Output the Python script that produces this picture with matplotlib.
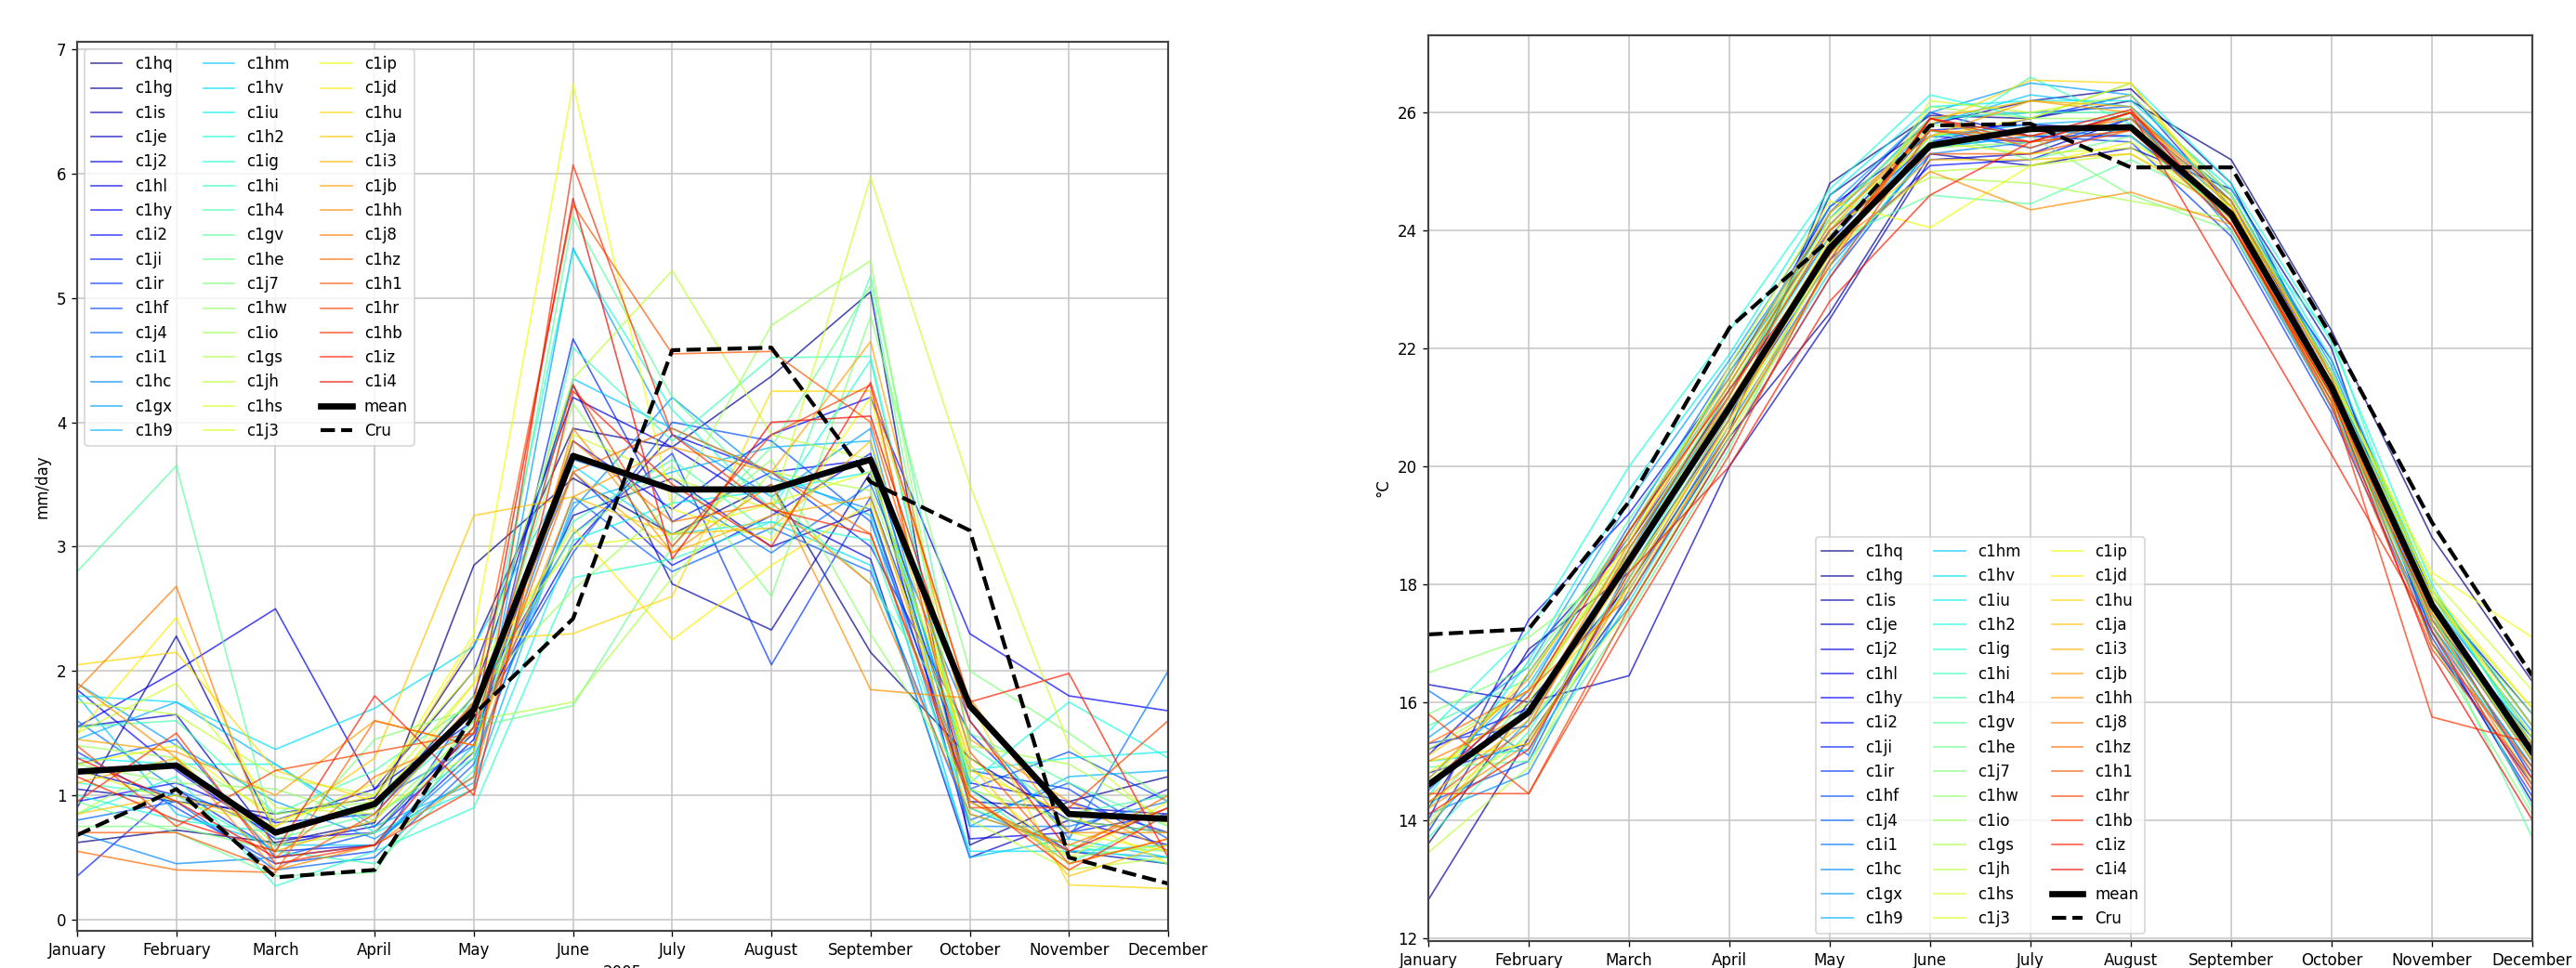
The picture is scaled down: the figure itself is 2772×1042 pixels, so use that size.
import matplotlib
matplotlib.use("Agg")
import matplotlib.pyplot as plt
import numpy as np

months = ["January", "February", "March", "April", "May", "June", "July",
          "August", "September", "October", "November", "December"]

members = ["c1hq", "c1hg", "c1is", "c1je", "c1j2", "c1hl", "c1hy", "c1i2", "c1ji", "c1ir",
           "c1hf", "c1j4", "c1i1", "c1hc", "c1gx", "c1h9", "c1hm", "c1hv", "c1iu", "c1h2",
           "c1ig", "c1hi", "c1h4", "c1gv", "c1he", "c1j7", "c1hw", "c1io", "c1gs", "c1jh",
           "c1hs", "c1j3", "c1ip", "c1jd", "c1hu", "c1ja", "c1i3", "c1jb", "c1hh", "c1j8",
           "c1hz", "c1h1", "c1hr", "c1hb", "c1iz", "c1i4"]

# precipitation (mm/day), one row per ensemble member, Jan..Dec
precip = [
    [0.62, 0.72, 0.62, 0.78, 2.85, 3.55, 3.10, 3.50, 2.15, 1.30, 0.80, 0.70],
    [1.05, 0.95, 0.85, 0.98, 2.20, 3.95, 3.80, 4.37, 5.05, 0.60, 0.95, 1.15],
    [0.90, 2.28, 0.70, 0.90, 1.80, 4.30, 2.70, 2.33, 3.60, 1.05, 0.55, 0.45],
    [1.55, 1.65, 0.60, 0.75, 1.50, 3.25, 3.55, 3.00, 3.30, 0.95, 0.90, 0.85],
    [1.20, 1.00, 0.80, 1.05, 2.00, 4.20, 3.80, 3.30, 2.90, 0.50, 0.80, 0.60],
    [1.55, 2.00, 2.50, 1.05, 1.60, 3.00, 3.90, 3.60, 3.70, 0.65, 0.70, 1.05],
    [1.85, 1.20, 0.65, 0.70, 1.45, 3.85, 3.30, 3.90, 4.20, 2.30, 1.80, 1.68],
    [0.95, 1.10, 0.78, 0.85, 1.70, 3.60, 2.85, 3.25, 3.75, 1.10, 0.95, 0.70],
    [0.35, 1.05, 0.55, 0.60, 1.35, 4.67, 3.20, 3.60, 3.00, 1.50, 0.70, 0.85],
    [1.35, 0.90, 0.45, 0.55, 1.75, 3.10, 3.75, 2.05, 3.40, 1.20, 1.05, 0.55],
    [1.25, 1.45, 0.50, 0.70, 1.55, 2.95, 4.00, 3.85, 3.20, 1.05, 1.35, 0.95],
    [0.80, 0.95, 0.40, 0.50, 1.25, 3.40, 2.80, 3.15, 2.80, 0.80, 1.10, 0.65],
    [1.60, 1.05, 0.70, 0.95, 1.40, 3.70, 3.45, 2.95, 3.50, 1.60, 0.65, 2.00],
    [0.70, 0.45, 0.50, 0.60, 1.30, 3.30, 4.20, 3.55, 3.30, 0.75, 0.75, 0.95],
    [1.90, 1.40, 0.95, 0.65, 1.15, 5.40, 3.90, 3.40, 3.95, 0.90, 0.55, 0.50],
    [1.45, 1.75, 1.25, 0.75, 1.10, 3.35, 3.60, 3.80, 3.85, 0.75, 1.15, 1.20],
    [1.80, 0.85, 0.60, 0.60, 1.40, 4.35, 3.95, 3.60, 3.25, 0.50, 0.65, 0.50],
    [1.80, 1.75, 1.37, 1.70, 2.20, 3.65, 3.10, 3.20, 2.85, 0.55, 0.55, 0.60],
    [1.30, 1.25, 1.25, 0.70, 1.05, 3.05, 3.35, 3.45, 3.60, 1.20, 1.30, 1.35],
    [1.00, 0.80, 0.70, 0.90, 1.60, 5.38, 4.10, 3.30, 4.50, 1.10, 1.75, 1.30],
    [0.85, 1.15, 0.27, 0.55, 0.90, 2.75, 2.90, 3.20, 3.05, 0.85, 0.60, 0.45],
    [1.10, 1.00, 0.55, 0.45, 1.20, 4.60, 3.85, 4.52, 4.53, 1.05, 0.45, 0.85],
    [1.55, 1.60, 0.85, 1.20, 1.75, 3.20, 3.70, 3.10, 5.18, 1.40, 0.85, 1.00],
    [2.80, 3.65, 0.65, 0.85, 1.30, 5.65, 4.20, 3.40, 2.70, 1.50, 1.10, 0.75],
    [0.95, 0.70, 0.35, 0.38, 1.55, 1.72, 3.00, 3.80, 5.10, 0.90, 0.60, 0.55],
    [0.75, 0.75, 0.55, 1.45, 1.70, 3.10, 3.65, 2.60, 4.85, 2.00, 1.50, 0.95],
    [1.25, 1.10, 1.05, 0.80, 1.55, 4.15, 3.05, 3.70, 2.30, 1.05, 0.80, 0.70],
    [1.40, 1.30, 0.85, 0.95, 1.80, 2.65, 3.35, 4.78, 5.30, 0.95, 0.50, 0.60],
    [0.85, 1.30, 0.60, 0.70, 1.60, 1.75, 2.75, 3.60, 3.45, 1.40, 1.25, 0.80],
    [1.75, 1.65, 1.15, 1.00, 1.90, 4.35, 5.22, 3.90, 3.70, 0.80, 0.40, 0.50],
    [1.50, 1.90, 0.90, 0.85, 1.35, 3.90, 3.55, 3.30, 5.97, 3.50, 1.40, 0.75],
    [1.20, 0.95, 0.75, 1.10, 2.00, 3.00, 3.10, 3.35, 3.60, 1.30, 0.70, 0.55],
    [1.25, 1.40, 0.80, 1.00, 2.30, 6.72, 3.30, 3.05, 4.20, 1.15, 0.50, 0.95],
    [1.50, 2.43, 0.70, 0.90, 1.90, 3.15, 2.25, 2.85, 3.35, 1.20, 0.85, 0.45],
    [2.05, 2.15, 1.20, 0.95, 2.25, 2.30, 2.60, 4.25, 4.25, 1.75, 0.28, 0.25],
    [0.85, 1.00, 0.75, 1.30, 3.25, 3.40, 3.10, 3.15, 3.85, 1.25, 0.35, 0.60],
    [1.10, 1.30, 0.55, 0.80, 1.75, 3.60, 2.95, 3.25, 3.40, 1.00, 0.45, 0.65],
    [1.45, 1.35, 1.00, 1.60, 1.40, 3.40, 3.80, 3.60, 4.65, 1.45, 0.95, 0.55],
    [1.90, 1.30, 0.40, 0.60, 1.15, 3.95, 2.95, 3.50, 1.85, 1.78, 0.70, 0.70],
    [1.85, 2.68, 0.50, 1.15, 1.50, 3.85, 3.20, 3.35, 2.70, 0.85, 0.60, 0.90],
    [0.55, 0.40, 0.38, 1.60, 1.40, 3.60, 3.95, 3.60, 3.10, 0.95, 0.55, 1.00],
    [0.70, 0.70, 0.40, 0.85, 1.75, 5.75, 4.55, 4.57, 4.00, 1.35, 0.45, 0.65],
    [1.40, 0.75, 1.20, 1.35, 1.50, 4.30, 3.00, 3.90, 4.30, 0.90, 0.90, 1.60],
    [0.95, 1.50, 0.45, 0.60, 1.05, 6.07, 3.90, 3.30, 3.10, 1.00, 0.40, 0.85],
    [1.15, 0.80, 0.55, 1.80, 1.00, 4.25, 3.50, 3.00, 4.32, 1.75, 1.98, 0.50],
    [1.30, 0.95, 0.50, 0.60, 1.55, 5.80, 2.90, 4.00, 4.05, 1.60, 0.55, 0.90],
]
precip_mean = [1.19, 1.24, 0.70, 0.93, 1.69, 3.73, 3.46, 3.46, 3.70, 1.72, 0.85, 0.81]
precip_cru = [0.68, 1.05, 0.34, 0.40, 1.65, 2.42, 4.58, 4.60, 3.52, 3.13, 0.50, 0.29]

# near-surface temperature (degC), one row per ensemble member, Jan..Dec
temp = [
    [13.60, 16.00, 18.00, 20.60, 24.80, 25.95, 25.90, 26.20, 25.20, 22.30, 18.80, 16.35],
    [14.20, 16.90, 18.20, 20.80, 24.60, 25.80, 26.20, 26.40, 24.80, 21.50, 17.40, 15.40],
    [12.65, 15.40, 17.80, 20.50, 22.60, 25.30, 25.10, 25.40, 24.70, 22.00, 17.00, 14.60],
    [16.30, 16.00, 16.45, 20.00, 22.50, 25.20, 25.30, 25.90, 24.50, 21.40, 17.20, 14.30],
    [15.10, 16.80, 18.70, 21.20, 24.30, 26.00, 25.60, 25.60, 24.30, 21.80, 17.80, 15.80],
    [15.20, 15.90, 18.50, 21.30, 23.90, 25.70, 25.80, 25.70, 24.20, 21.20, 17.30, 14.90],
    [14.00, 17.40, 19.20, 21.50, 24.40, 25.60, 25.50, 26.00, 24.60, 21.60, 17.90, 15.60],
    [14.80, 15.30, 18.10, 20.90, 23.50, 25.10, 25.20, 25.80, 24.10, 21.00, 17.50, 14.70],
    [13.80, 16.50, 18.80, 21.60, 24.00, 25.50, 25.90, 26.30, 24.40, 21.30, 17.60, 15.20],
    [15.30, 15.60, 17.60, 20.40, 23.20, 25.40, 25.60, 25.50, 23.90, 20.90, 17.10, 14.40],
    [14.30, 15.00, 18.30, 21.00, 23.80, 25.70, 25.40, 25.90, 24.20, 21.40, 17.70, 15.00],
    [14.50, 16.20, 19.00, 21.70, 24.20, 25.90, 26.00, 26.10, 24.50, 21.60, 17.60, 15.30],
    [16.20, 15.10, 18.60, 21.10, 23.60, 25.50, 25.70, 25.60, 24.30, 21.20, 17.40, 15.10],
    [14.10, 14.80, 17.90, 20.70, 23.40, 25.30, 25.50, 26.00, 24.00, 21.00, 17.20, 14.80],
    [15.40, 16.60, 19.40, 21.80, 24.40, 26.00, 26.50, 26.30, 24.60, 21.70, 17.70, 15.50],
    [13.90, 15.70, 18.40, 21.00, 23.70, 25.60, 25.80, 25.90, 24.40, 21.30, 17.50, 15.00],
    [14.70, 16.30, 18.90, 21.40, 24.10, 25.80, 26.30, 26.10, 24.50, 21.50, 17.80, 15.40],
    [15.00, 15.20, 17.70, 20.60, 23.30, 25.40, 25.60, 25.80, 24.10, 21.10, 17.30, 14.90],
    [14.40, 16.70, 19.60, 21.90, 24.60, 26.10, 26.20, 26.20, 24.70, 21.80, 17.90, 15.60],
    [15.50, 17.20, 20.00, 22.30, 24.70, 26.30, 25.90, 26.50, 24.80, 22.10, 18.00, 15.20],
    [14.60, 15.90, 18.50, 21.20, 23.90, 25.60, 25.70, 25.70, 24.30, 21.30, 17.60, 15.00],
    [13.70, 15.50, 18.20, 21.00, 23.60, 25.50, 26.60, 25.80, 24.20, 22.20, 17.50, 14.20],
    [15.60, 16.40, 19.10, 21.50, 24.20, 25.90, 26.00, 26.00, 24.60, 21.60, 17.90, 15.30],
    [14.90, 15.00, 17.50, 20.30, 23.80, 24.60, 24.45, 25.20, 24.40, 21.20, 17.30, 13.70],
    [14.20, 16.10, 18.60, 21.30, 24.00, 25.70, 25.20, 25.60, 24.20, 21.40, 17.50, 14.60],
    [15.80, 16.60, 18.90, 21.60, 24.30, 25.80, 25.60, 24.60, 24.00, 21.20, 17.00, 14.10],
    [16.50, 17.10, 18.40, 21.00, 23.70, 25.40, 25.50, 25.70, 24.30, 21.10, 17.70, 15.80],
    [14.00, 15.60, 18.00, 20.80, 23.50, 26.10, 25.90, 25.90, 24.10, 21.00, 17.40, 15.20],
    [15.20, 16.20, 18.60, 21.30, 24.10, 24.90, 24.80, 24.50, 24.20, 21.40, 17.60, 15.00],
    [13.45, 14.90, 18.10, 20.90, 23.60, 25.00, 25.10, 25.30, 24.40, 21.30, 17.80, 15.90],
    [14.30, 15.40, 17.60, 20.50, 23.40, 26.20, 26.00, 26.30, 24.60, 21.50, 18.10, 16.20],
    [14.80, 16.00, 18.80, 21.40, 24.20, 25.50, 25.30, 25.40, 24.40, 21.60, 17.90, 15.40],
    [14.60, 16.50, 18.70, 21.70, 24.50, 24.05, 25.10, 25.50, 24.50, 21.50, 18.20, 17.10],
    [15.00, 15.30, 18.20, 20.70, 23.90, 25.60, 25.90, 26.50, 24.40, 21.40, 17.90, 15.90],
    [13.90, 15.90, 17.90, 20.60, 23.60, 25.80, 26.55, 26.50, 24.30, 21.30, 17.80, 15.60],
    [15.10, 16.20, 18.50, 21.10, 23.80, 25.20, 25.20, 25.30, 24.30, 21.20, 17.50, 15.30],
    [14.40, 15.70, 18.30, 21.20, 24.00, 25.90, 26.20, 26.10, 24.20, 21.10, 17.60, 15.10],
    [14.70, 16.40, 18.90, 21.50, 24.30, 25.60, 26.20, 26.00, 24.40, 21.40, 17.70, 15.20],
    [14.20, 15.30, 18.00, 20.80, 23.70, 25.00, 24.35, 24.65, 24.10, 21.20, 17.50, 15.00],
    [15.00, 15.80, 18.70, 21.40, 24.10, 25.70, 25.60, 25.90, 24.20, 21.30, 17.30, 14.60],
    [15.30, 16.20, 17.80, 20.60, 23.40, 25.90, 25.40, 26.00, 24.50, 21.50, 17.40, 14.80],
    [14.30, 15.60, 18.60, 21.20, 24.00, 25.30, 25.30, 25.70, 24.30, 21.30, 17.00, 14.90],
    [15.80, 14.45, 17.60, 20.40, 23.20, 25.70, 25.50, 26.00, 24.20, 21.00, 16.90, 14.70],
    [14.45, 14.45, 17.40, 20.20, 23.50, 25.90, 25.50, 25.70, 24.10, 21.10, 15.75, 15.30],
    [14.10, 15.20, 18.20, 20.00, 22.80, 24.60, 25.50, 26.00, 23.10, 20.20, 17.20, 14.50],
    [14.60, 16.10, 18.90, 21.30, 23.60, 25.90, 25.60, 26.05, 24.10, 21.20, 16.80, 14.00],
]
temp_mean = [14.60, 15.83, 18.40, 21.00, 23.70, 25.44, 25.72, 25.75, 24.28, 21.34, 17.65, 15.15]
temp_cru = [17.15, 17.24, 19.40, 22.35, 23.85, 25.78, 25.81, 25.07, 25.07, 22.20, 19.05, 16.45]


def draw_panel(ax, values, mean, cru, ylabel, legend_loc):
    x = np.arange(len(months))
    colors = plt.cm.jet(np.linspace(0, 0.9, len(members)))
    for name, row, col in zip(members, values, colors):
        ax.plot(x, row, color=col, lw=1.0, alpha=0.7, label=name)
    ax.plot(x, mean, color="black", lw=4, label="mean")
    ax.plot(x, cru, color="black", lw=2.5, ls="--", label="Cru")
    ax.set_xticks(x)
    ax.set_xticklabels(months)
    ax.set_xlim(0, len(months) - 1)
    ax.set_ylabel(ylabel)
    ax.grid(True, color="#c4c4c4", lw=0.9)
    for sp in ax.spines.values():
        sp.set_color("#444444")
        sp.set_linewidth(1.3)
    ax.legend(loc=legend_loc, ncol=3)


fig = plt.figure(figsize=(2772 / 120, 1042 / 120), dpi=120)
ax1 = fig.add_axes([83 / 2772, 1 - 1002 / 1042, 1174 / 2772, 957 / 1042])
ax2 = fig.add_axes([1537 / 2772, 1 - 1013 / 1042, 1188 / 2772, 975 / 1042])

draw_panel(ax1, precip, precip_mean, precip_cru, "mm/day", "upper left")
ax1.set_ylim(-0.09, 7.06)
ax1.set_xlabel("2005")

draw_panel(ax2, temp, temp_mean, temp_cru, "°C", "lower center")
ax2.set_ylim(11.95, 27.31)
ax2.set_yticks([12, 14, 16, 18, 20, 22, 24, 26])

fig.savefig("out.png", dpi=120)
